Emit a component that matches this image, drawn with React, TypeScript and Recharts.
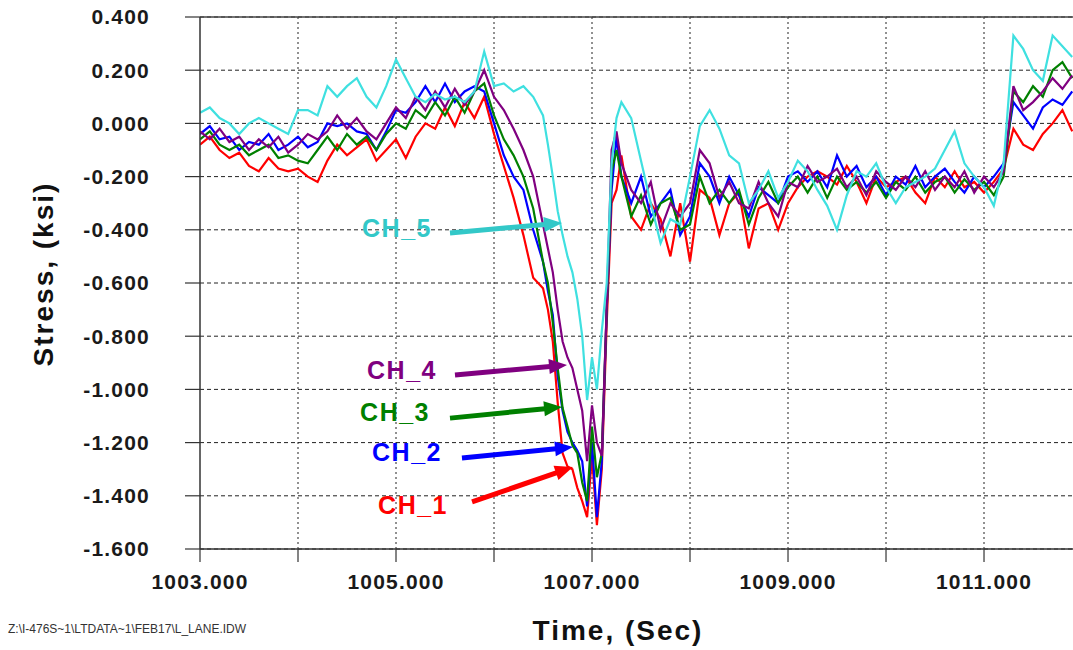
import { LineChart, Line, XAxis, YAxis, CartesianGrid, ReferenceLine, ReferenceDot } from "recharts";

// sample times (s); finer steps through the load spike
const times = [
  1003, 1003.1, 1003.2, 1003.3, 1003.4, 1003.5, 1003.6, 1003.7, 1003.8, 1003.9,
  1004, 1004.1, 1004.2, 1004.3, 1004.4, 1004.5, 1004.6, 1004.7, 1004.8, 1004.9,
  1005, 1005.1, 1005.2, 1005.3, 1005.4, 1005.5, 1005.6, 1005.7, 1005.8, 1005.9,
  1006, 1006.1, 1006.2, 1006.3, 1006.4, 1006.5,
  1006.55, 1006.6, 1006.65, 1006.7, 1006.75, 1006.8, 1006.85, 1006.9, 1006.95, 1007,
  1007.05, 1007.1, 1007.15, 1007.2, 1007.25, 1007.3,
  1007.4, 1007.5, 1007.6, 1007.7, 1007.8, 1007.9,
  1008, 1008.1, 1008.2, 1008.3, 1008.4, 1008.5, 1008.6, 1008.7, 1008.8, 1008.9,
  1009, 1009.1, 1009.2, 1009.3, 1009.4, 1009.5, 1009.6, 1009.7, 1009.8, 1009.9,
  1010, 1010.1, 1010.2, 1010.3, 1010.4, 1010.5, 1010.6, 1010.7, 1010.8, 1010.9,
  1011, 1011.1, 1011.2, 1011.3, 1011.4, 1011.5, 1011.6, 1011.7, 1011.8, 1011.9,
];

const ch1 = [
  -0.08, -0.05, -0.1, -0.13, -0.11, -0.16, -0.18, -0.13, -0.17, -0.18,
  -0.17, -0.2, -0.22, -0.14, -0.08, -0.12, -0.09, -0.06, -0.14, -0.1,
  -0.06, -0.13, -0.05, 0.0, -0.02, 0.06, -0.01, 0.08, 0.02, 0.1,
  -0.04, -0.16, -0.28, -0.42, -0.58, -0.62,
  -0.7, -0.82, -1.05, -1.24, -1.29, -1.3, -1.37, -1.42, -1.48, -1.25,
  -1.51, -1.3, -0.75, -0.3, -0.25, -0.12,
  -0.35, -0.4, -0.3, -0.36, -0.5, -0.3,
  -0.52, -0.25, -0.28, -0.42, -0.3, -0.26, -0.47, -0.32, -0.3, -0.4,
  -0.3, -0.24, -0.2, -0.18, -0.2, -0.23, -0.16, -0.22, -0.3, -0.2,
  -0.24, -0.22, -0.2, -0.26, -0.3, -0.2, -0.24, -0.18, -0.24, -0.22,
  -0.26, -0.22, -0.17, -0.02, -0.08, -0.1, -0.04, 0.0, 0.05, -0.03,
];

const ch2 = [
  -0.04, -0.01, -0.06, -0.05, -0.1, -0.07, -0.08, -0.04, -0.1, -0.08,
  -0.05, -0.09, -0.07, 0.0, -0.01, 0.0, -0.03, -0.04, -0.1, -0.03,
  0.05, 0.04, 0.08, 0.14, 0.08, 0.15, 0.08, 0.12, 0.14, 0.12,
  0.0, -0.12, -0.2, -0.25, -0.4, -0.52,
  -0.63, -0.72, -0.95, -1.08, -1.16, -1.2, -1.23, -1.27, -1.44, -1.2,
  -1.48, -1.27, -0.7, -0.25, -0.05, -0.2,
  -0.3, -0.2, -0.35, -0.3, -0.25, -0.42,
  -0.35, -0.15, -0.2, -0.3, -0.2, -0.27, -0.35, -0.24, -0.27, -0.3,
  -0.2, -0.18, -0.22, -0.18, -0.24, -0.12, -0.2, -0.16, -0.24, -0.2,
  -0.27, -0.2, -0.23, -0.16, -0.24, -0.2, -0.17, -0.22, -0.26, -0.2,
  -0.24, -0.2, -0.15, 0.08, 0.03, -0.02, 0.06, 0.09, 0.07, 0.12,
];

const ch3 = [
  -0.06, -0.03, -0.08, -0.1, -0.08, -0.12, -0.1, -0.08, -0.13, -0.12,
  -0.14, -0.15, -0.1, -0.05, -0.1, -0.04, -0.08, -0.05, -0.1, -0.04,
  0.0, -0.02, 0.05, 0.02, 0.08, 0.03, 0.1, 0.04, 0.12, 0.15,
  0.03, -0.06, -0.12, -0.2, -0.32, -0.52,
  -0.6, -0.75, -0.92, -1.07, -1.14, -1.21, -1.24, -1.35, -1.42, -1.14,
  -1.33, -1.24, -0.7, -0.18, -0.1, -0.2,
  -0.35, -0.27, -0.38, -0.3, -0.28, -0.4,
  -0.38, -0.2, -0.3, -0.25, -0.3, -0.25, -0.38, -0.28, -0.22, -0.3,
  -0.24, -0.2, -0.26, -0.2, -0.28, -0.2, -0.25, -0.22, -0.26, -0.22,
  -0.28, -0.22, -0.25, -0.2, -0.26, -0.22, -0.2, -0.26, -0.21, -0.25,
  -0.22, -0.27, -0.2, 0.12, 0.08, 0.14, 0.1, 0.2, 0.23, 0.17,
];

const ch4 = [
  -0.03, -0.06, -0.02, -0.07, -0.05, -0.1, -0.06, -0.09, -0.05, -0.11,
  -0.08, -0.04, -0.06, -0.03, 0.03, -0.02, 0.02, -0.03, -0.06, 0.0,
  0.06, 0.02, 0.1, 0.05, 0.12, 0.06, 0.13, 0.07, 0.12, 0.2,
  0.1, 0.05, -0.02, -0.1, -0.2, -0.38,
  -0.47, -0.56, -0.7, -0.82, -0.88, -0.92, -1.0, -1.08, -1.27, -1.06,
  -1.2, -1.25, -0.69, -0.1, -0.03, -0.15,
  -0.25, -0.3, -0.22, -0.4, -0.3, -0.35,
  -0.3, -0.1, -0.15, -0.28, -0.22, -0.3, -0.32, -0.22, -0.3, -0.35,
  -0.22, -0.24, -0.16, -0.22, -0.2, -0.17, -0.24, -0.2, -0.27, -0.18,
  -0.22, -0.25, -0.2, -0.24, -0.18, -0.25, -0.2, -0.24, -0.18, -0.26,
  -0.2, -0.24, -0.18, 0.14, 0.05, 0.08, 0.12, 0.17, 0.13, 0.18,
];

const ch5 = [
  0.04, 0.06, 0.02, 0.0, -0.04, 0.0, 0.02, 0.0, -0.02, -0.04,
  0.05, 0.05, 0.03, 0.14, 0.1, 0.14, 0.17, 0.1, 0.06, 0.14,
  0.24, 0.17, 0.1, 0.08, 0.11, 0.09, 0.1, 0.08, 0.12, 0.27,
  0.14, 0.15, 0.12, 0.14, 0.1, 0.03,
  -0.08, -0.2, -0.33, -0.42, -0.5, -0.56, -0.66, -0.8, -1.04, -0.88,
  -1.0, -0.78, -0.6, -0.15, 0.02, 0.08,
  0.02, -0.14, -0.3, -0.45, -0.36, -0.38,
  -0.2, -0.01, 0.05, -0.02, -0.12, -0.15, -0.3, -0.25, -0.18, -0.28,
  -0.22, -0.14, -0.18, -0.25, -0.31, -0.4, -0.27, -0.18, -0.2, -0.15,
  -0.24, -0.3, -0.24, -0.22, -0.2, -0.17, -0.1, -0.03, -0.15, -0.2,
  -0.24, -0.31, -0.15, 0.33, 0.28, 0.2, 0.16, 0.33, 0.29, 0.25,
];

const xTicks = [1003, 1004, 1005, 1006, 1007, 1008, 1009, 1010, 1011];
const yTicks = [-1.6, -1.4, -1.2, -1.0, -0.8, -0.6, -0.4, -0.2, 0, 0.2, 0.4];

// callouts: label end point, arrow tail, arrow tip (data coords)
const callouts = [
  { key: "ch5", name: "CH_5", labelT: 1005.367, labelV: -0.393, fromT: 1005.551, fromV: -0.412, toT: 1006.694, toV: -0.374 },
  { key: "ch4", name: "CH_4", labelT: 1005.418, labelV: -0.927, fromT: 1005.602, fromV: -0.946, toT: 1006.745, toV: -0.908 },
  { key: "ch3", name: "CH_3", labelT: 1005.347, labelV: -1.085, fromT: 1005.551, fromV: -1.108, toT: 1006.694, toV: -1.066 },
  { key: "ch2", name: "CH_2", labelT: 1005.469, labelV: -1.235, fromT: 1005.673, fromV: -1.258, toT: 1006.806, toV: -1.217 },
  { key: "ch1", name: "CH_1", labelT: 1005.531, labelV: -1.435, fromT: 1005.776, fromV: -1.423, toT: 1006.806, toV: -1.292 },
];

const lineColors: Record<string, string> = {
  ch1: "#ff0000",
  ch2: "#0000ff",
  ch3: "#008000",
  ch4: "#800080",
  ch5: "#3fe0e0",
};

const labelColors: Record<string, string> = {
  ch1: "#ff0000",
  ch2: "#0000ff",
  ch3: "#008000",
  ch4: "#800080",
  ch5: "#33c8c8",
};

const rows = times.map((t, i) => ({ t, ch1: ch1[i], ch2: ch2[i], ch3: ch3[i], ch4: ch4[i], ch5: ch5[i] }));

const FONT = "'Liberation Sans', Arial, Helvetica, sans-serif";

function Arrow(props: any) {
  const { x1, y1, x2, y2, color } = props;
  if ([x1, y1, x2, y2].some((v) => typeof v !== "number" || isNaN(v))) return null;
  const dx = x2 - x1;
  const dy = y2 - y1;
  const len = Math.hypot(dx, dy) || 1;
  const ux = dx / len;
  const uy = dy / len;
  const head = 18;
  const half = 7.5;
  const bx = x2 - ux * head;
  const by = y2 - uy * head;
  return (
    <g>
      <line x1={x1} y1={y1} x2={bx + ux} y2={by + uy} stroke={color} strokeWidth={5} />
      <polygon
        points={`${x2},${y2} ${bx - uy * half},${by + ux * half} ${bx + uy * half},${by - ux * half}`}
        fill={color}
      />
    </g>
  );
}

function CalloutLabel(props: any) {
  const { cx, cy, text, color } = props;
  if (typeof cx !== "number" || typeof cy !== "number") return null;
  return (
    <text
      x={cx}
      y={cy}
      textAnchor="end"
      dominantBaseline="central"
      fill={color}
      fontFamily={FONT}
      fontWeight={700}
      fontSize={25}
      letterSpacing={1.5}
    >
      {text}
    </text>
  );
}

export default function App() {
  const tickStyle = { fill: "#1a1a1a", fontSize: 21, fontWeight: 700, fontFamily: FONT, letterSpacing: 1.2 };
  return (
    <div style={{ position: "absolute", left: 0, top: 0, width: 1073, height: 650, background: "#fff", overflow: "hidden" }}>
      <LineChart width={1073} height={650} data={rows} margin={{ top: 17, right: 0, bottom: 0, left: 0 }}>
        <CartesianGrid vertical={false} stroke="#222" strokeDasharray="4 3" />
        {xTicks.slice(1).map((t) => (
          <ReferenceLine key={t} x={t} stroke="#222" strokeDasharray="2 3" />
        ))}
        <ReferenceLine y={0.4} stroke="#444" strokeWidth={1.5} />
        <XAxis
          dataKey="t"
          type="number"
          domain={[1003, 1011.908]}
          allowDataOverflow
          ticks={xTicks}
          interval={0}
          tickFormatter={(v: number) => (Math.round(v) % 2 === 1 ? v.toFixed(3) : "")}
          tick={tickStyle}
          tickSize={13}
          tickMargin={12}
          height={101}
          axisLine={{ stroke: "#333", strokeWidth: 1.5 }}
          tickLine={{ stroke: "#333", strokeWidth: 1.2 }}
        />
        <YAxis
          type="number"
          domain={[-1.6, 0.4]}
          ticks={yTicks}
          interval={0}
          tickFormatter={(v: number) => v.toFixed(3)}
          tick={tickStyle}
          tickSize={15}
          tickMargin={35}
          width={200}
          axisLine={{ stroke: "#333", strokeWidth: 1.5 }}
          tickLine={{ stroke: "#333", strokeWidth: 1.2 }}
        />
        {["ch1", "ch2", "ch3", "ch4", "ch5"].map((k) => (
          <Line
            key={k}
            dataKey={k}
            type="linear"
            stroke={lineColors[k]}
            strokeWidth={2.2}
            dot={false}
            activeDot={false}
            isAnimationActive={false}
          />
        ))}
        {callouts.map((c) => (
          <ReferenceLine
            key={c.name + "-arrow"}
            segment={[
              { x: c.fromT, y: c.fromV },
              { x: c.toT, y: c.toV },
            ]}
            shape={(p: any) => <Arrow {...p} color={labelColors[c.key]} />}
          />
        ))}
        {callouts.map((c) => (
          <ReferenceDot
            key={c.name + "-label"}
            x={c.labelT}
            y={c.labelV}
            r={0}
            shape={(p: any) => <CalloutLabel {...p} text={c.name} color={labelColors[c.key]} />}
          />
        ))}
      </LineChart>
      <div
        style={{
          position: "absolute",
          left: 618,
          top: 617,
          transform: "translateX(-50%)",
          whiteSpace: "nowrap",
          fontFamily: FONT,
          fontWeight: 700,
          fontSize: 28,
          letterSpacing: 2,
          lineHeight: 1,
          color: "#111",
        }}
      >
        Time, (Sec)
      </div>
      <div
        style={{
          position: "absolute",
          left: 44,
          top: 274,
          transform: "translate(-50%, -50%) rotate(-90deg)",
          whiteSpace: "nowrap",
          fontFamily: FONT,
          fontWeight: 700,
          fontSize: 28,
          letterSpacing: 2,
          lineHeight: 1,
          color: "#111",
        }}
      >
        Stress, (ksi)
      </div>
      <div
        style={{
          position: "absolute",
          left: 8,
          top: 623,
          whiteSpace: "nowrap",
          fontFamily: FONT,
          fontSize: 12,
          lineHeight: 1,
          color: "#333",
        }}
      >
        {"Z:\\I-476S~1\\LTDATA~1\\FEB17\\L_LANE.IDW"}
      </div>
    </div>
  );
}
